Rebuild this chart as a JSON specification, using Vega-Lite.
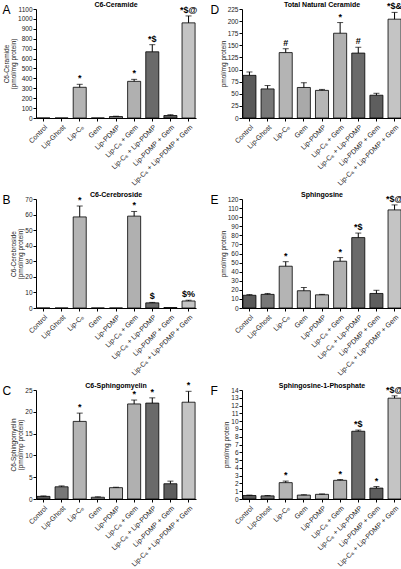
{
  "$schema": "https://vega.github.io/schema/vega-lite/v6.json",
  "padding": {"left": 2, "top": 1, "right": 8, "bottom": 0},
  "columns": 2,
  "spacing": {"row": 4, "column": 12},
  "datasets": {
    "t": [
      {"p": "A", "g": "Control", "v": 0, "e": null, "s": ""},
      {"p": "A", "g": "Lip-Ghost", "v": 0, "e": null, "s": ""},
      {"p": "A", "g": "Lip-C₆", "v": 310, "e": 340, "s": "*"},
      {"p": "A", "g": "Gem", "v": 0, "e": null, "s": ""},
      {"p": "A", "g": "Lip-PDMP", "v": 15, "e": 18, "s": ""},
      {"p": "A", "g": "Lip-C₆ + Gem", "v": 370, "e": 390, "s": "*"},
      {"p": "A", "g": "Lip-C₆ + Lip-PDMP", "v": 668, "e": 740, "s": "*$"},
      {"p": "A", "g": "Lip-PDMP + Gem", "v": 25, "e": 33, "s": ""},
      {"p": "A", "g": "Lip-C₆ + Lip-PDMP + Gem", "v": 960, "e": 1030, "s": "*$@"},
      {"p": "D", "g": "Control", "v": 88, "e": 95, "s": ""},
      {"p": "D", "g": "Lip-Ghost", "v": 60, "e": 67, "s": ""},
      {"p": "D", "g": "Lip-C₆", "v": 135, "e": 143, "s": "#"},
      {"p": "D", "g": "Gem", "v": 63, "e": 73, "s": ""},
      {"p": "D", "g": "Lip-PDMP", "v": 57, "e": 59, "s": ""},
      {"p": "D", "g": "Lip-C₆ + Gem", "v": 175, "e": 197, "s": "*"},
      {"p": "D", "g": "Lip-C₆ + Lip-PDMP", "v": 134, "e": 146, "s": "#"},
      {"p": "D", "g": "Lip-PDMP + Gem", "v": 47, "e": 51, "s": ""},
      {"p": "D", "g": "Lip-C₆ + Lip-PDMP + Gem", "v": 204, "e": 218, "s": "*$&"},
      {"p": "B", "g": "Control", "v": 0, "e": null, "s": ""},
      {"p": "B", "g": "Lip-Ghost", "v": 0, "e": null, "s": ""},
      {"p": "B", "g": "Lip-C₆", "v": 58.5, "e": 65.5, "s": "*"},
      {"p": "B", "g": "Gem", "v": 0, "e": null, "s": ""},
      {"p": "B", "g": "Lip-PDMP", "v": 0, "e": null, "s": ""},
      {"p": "B", "g": "Lip-C₆ + Gem", "v": 59, "e": 62, "s": "*"},
      {"p": "B", "g": "Lip-C₆ + Lip-PDMP", "v": 3.3, "e": 3.6, "s": "$"},
      {"p": "B", "g": "Lip-PDMP + Gem", "v": 0.3, "e": null, "s": ""},
      {"p": "B", "g": "Lip-C₆ + Lip-PDMP + Gem", "v": 4.5, "e": 5, "s": "$%"},
      {"p": "E", "g": "Control", "v": 14, "e": 14.8, "s": ""},
      {"p": "E", "g": "Lip-Ghost", "v": 15, "e": 16, "s": ""},
      {"p": "E", "g": "Lip-C₆", "v": 46, "e": 51, "s": "*"},
      {"p": "E", "g": "Gem", "v": 19, "e": 22.5, "s": ""},
      {"p": "E", "g": "Lip-PDMP", "v": 14.5, "e": 15, "s": ""},
      {"p": "E", "g": "Lip-C₆ + Gem", "v": 51.5, "e": 55.5, "s": "*"},
      {"p": "E", "g": "Lip-C₆ + Lip-PDMP", "v": 77.5, "e": 82.5, "s": "*$"},
      {"p": "E", "g": "Lip-PDMP + Gem", "v": 16, "e": 19.5, "s": ""},
      {"p": "E", "g": "Lip-C₆ + Lip-PDMP + Gem", "v": 108, "e": 113.5, "s": "*$@"},
      {"p": "C", "g": "Control", "v": 0.6, "e": 0.7, "s": ""},
      {"p": "C", "g": "Lip-Ghost", "v": 2.8, "e": 3.0, "s": ""},
      {"p": "C", "g": "Lip-C₆", "v": 17.8, "e": 19.7, "s": "*"},
      {"p": "C", "g": "Gem", "v": 0.4, "e": 0.5, "s": ""},
      {"p": "C", "g": "Lip-PDMP", "v": 2.6, "e": 2.7, "s": ""},
      {"p": "C", "g": "Lip-C₆ + Gem", "v": 21.8, "e": 22.7, "s": "*"},
      {"p": "C", "g": "Lip-C₆ + Lip-PDMP", "v": 22, "e": 23.2, "s": "*"},
      {"p": "C", "g": "Lip-PDMP + Gem", "v": 3.5, "e": 4.1, "s": ""},
      {"p": "C", "g": "Lip-C₆ + Lip-PDMP + Gem", "v": 22.2, "e": 24.7, "s": "*"},
      {"p": "F", "g": "Control", "v": 0.45, "e": 0.5, "s": ""},
      {"p": "F", "g": "Lip-Ghost", "v": 0.4, "e": 0.45, "s": ""},
      {"p": "F", "g": "Lip-C₆", "v": 2.1, "e": 2.3, "s": "*"},
      {"p": "F", "g": "Gem", "v": 0.5, "e": 0.55, "s": ""},
      {"p": "F", "g": "Lip-PDMP", "v": 0.6, "e": 0.65, "s": ""},
      {"p": "F", "g": "Lip-C₆ + Gem", "v": 2.4, "e": 2.5, "s": "*"},
      {"p": "F", "g": "Lip-C₆ + Lip-PDMP", "v": 8.7, "e": 8.85, "s": "*$"},
      {"p": "F", "g": "Lip-PDMP + Gem", "v": 1.4, "e": 1.6, "s": "*"},
      {"p": "F", "g": "Lip-C₆ + Lip-PDMP + Gem", "v": 12.95, "e": 13.25, "s": "*$@"}
    ]
  },
  "concat": [
    {
      "width": 160, "height": 109,
      "data": {"name": "t"},
      "transform": [{"filter": "datum.p === 'A'"}],
      "encoding": {"x": {"field": "g", "type": "nominal", "sort": null, "title": null, "scale": {"paddingInner": 0.28, "paddingOuter": 0.05}}},
      "layer": [
        {"mark": "bar", "encoding": {"y": {"field": "v", "type": "quantitative", "scale": {"domain": [0, 1100], "nice": false}, "axis": {"values": [0,100,200,300,400,500,600,700,800,900,1000,1100], "format": "d", "labelOverlap": false, "title": ["C6-Ceramide", "(pmol/mg protein)"]}},
          "color": {"field": "g", "type": "nominal", "sort": null, "legend": null, "scale": {"domain": ["Control","Lip-Ghost","Lip-C₆","Gem","Lip-PDMP","Lip-C₆ + Gem","Lip-C₆ + Lip-PDMP","Lip-PDMP + Gem","Lip-C₆ + Lip-PDMP + Gem"], "range": ["#5a5a5a","#777777","#b4b4b4","#a9a9a9","#b6b6b6","#b0b0b0","#6a6a6a","#5e5e5e","#c4c4c4"]}}}},
        {"transform": [{"filter": "datum.e != null"}], "mark": "rule", "encoding": {"y": {"field": "v", "type": "quantitative", "axis": {"values": [0,100,200,300,400,500,600,700,800,900,1000,1100], "format": "d", "labelOverlap": false, "title": ["C6-Ceramide", "(pmol/mg protein)"]}}, "y2": {"field": "e"}}},
        {"transform": [{"filter": "datum.e != null"}], "mark": {"type": "tick", "size": 6, "thickness": 1}, "encoding": {"y": {"field": "e", "type": "quantitative", "axis": {"values": [0,100,200,300,400,500,600,700,800,900,1000,1100], "format": "d", "labelOverlap": false, "title": ["C6-Ceramide", "(pmol/mg protein)"]}}}},
        {"transform": [{"filter": "datum.s != ''"}], "mark": {"type": "text", "baseline": "bottom", "dy": -1, "fontSize": 9, "fontWeight": "bold"}, "encoding": {"y": {"field": "e", "type": "quantitative", "axis": {"values": [0,100,200,300,400,500,600,700,800,900,1000,1100], "format": "d", "labelOverlap": false, "title": ["C6-Ceramide", "(pmol/mg protein)"]}}, "text": {"field": "s"}}},
        {"data": {"values": [{"n": "C6-Ceramide", "k": "A"}]}, "mark": {"type": "text", "baseline": "bottom", "dy": -1, "fontSize": 7, "fontWeight": "bold"}, "encoding": {"x": {"datum": "Lip-PDMP"}, "y": {"datum": 1100, "type": "quantitative", "axis": {"values": [0,100,200,300,400,500,600,700,800,900,1000,1100], "format": "d", "labelOverlap": false, "title": ["C6-Ceramide", "(pmol/mg protein)"]}}, "text": {"field": "n"}}},
        {"data": {"values": [{"k": "A"}]}, "mark": {"type": "text", "baseline": "top", "align": "left", "dx": -41, "dy": -4, "fontSize": 12}, "encoding": {"x": {"datum": "Control"}, "y": {"datum": 1100, "type": "quantitative", "axis": {"values": [0,100,200,300,400,500,600,700,800,900,1000,1100], "format": "d", "labelOverlap": false, "title": ["C6-Ceramide", "(pmol/mg protein)"]}}, "text": {"field": "k"}}}
      ]
    },
    {
      "width": 160, "height": 109,
      "data": {"name": "t"},
      "transform": [{"filter": "datum.p === 'D'"}],
      "encoding": {"x": {"field": "g", "type": "nominal", "sort": null, "title": null, "scale": {"paddingInner": 0.28, "paddingOuter": 0.05}}},
      "layer": [
        {"mark": "bar", "encoding": {"y": {"field": "v", "type": "quantitative", "scale": {"domain": [0, 225], "nice": false}, "axis": {"values": [0,25,50,75,100,125,150,175,200,225], "labelOverlap": false, "title": "pmol/mg protein"}},
          "color": {"field": "g", "type": "nominal", "sort": null, "legend": null, "scale": {"domain": ["Control","Lip-Ghost","Lip-C₆","Gem","Lip-PDMP","Lip-C₆ + Gem","Lip-C₆ + Lip-PDMP","Lip-PDMP + Gem","Lip-C₆ + Lip-PDMP + Gem"], "range": ["#5a5a5a","#777777","#b4b4b4","#a9a9a9","#b6b6b6","#b0b0b0","#6a6a6a","#5e5e5e","#c4c4c4"]}}}},
        {"transform": [{"filter": "datum.e != null"}], "mark": "rule", "encoding": {"y": {"field": "v", "type": "quantitative", "axis": {"values": [0,25,50,75,100,125,150,175,200,225], "labelOverlap": false, "title": "pmol/mg protein"}}, "y2": {"field": "e"}}},
        {"transform": [{"filter": "datum.e != null"}], "mark": {"type": "tick", "size": 6, "thickness": 1}, "encoding": {"y": {"field": "e", "type": "quantitative", "axis": {"values": [0,25,50,75,100,125,150,175,200,225], "labelOverlap": false, "title": "pmol/mg protein"}}}},
        {"transform": [{"filter": "datum.s != ''"}], "mark": {"type": "text", "baseline": "bottom", "dy": -1, "fontSize": 9, "fontWeight": "bold"}, "encoding": {"y": {"field": "e", "type": "quantitative", "axis": {"values": [0,25,50,75,100,125,150,175,200,225], "labelOverlap": false, "title": "pmol/mg protein"}}, "text": {"field": "s"}}},
        {"data": {"values": [{"n": "Total Natural Ceramide"}]}, "mark": {"type": "text", "baseline": "bottom", "dy": -1, "fontSize": 7, "fontWeight": "bold"}, "encoding": {"x": {"datum": "Lip-PDMP"}, "y": {"datum": 225, "type": "quantitative", "axis": {"values": [0,25,50,75,100,125,150,175,200,225], "labelOverlap": false, "title": "pmol/mg protein"}}, "text": {"field": "n"}}},
        {"data": {"values": [{"k": "D"}]}, "mark": {"type": "text", "baseline": "top", "align": "left", "dx": -39, "dy": -4, "fontSize": 12}, "encoding": {"x": {"datum": "Control"}, "y": {"datum": 225, "type": "quantitative", "axis": {"values": [0,25,50,75,100,125,150,175,200,225], "labelOverlap": false, "title": "pmol/mg protein"}}, "text": {"field": "k"}}}
      ]
    },
    {
      "width": 160, "height": 109,
      "data": {"name": "t"},
      "transform": [{"filter": "datum.p === 'B'"}],
      "encoding": {"x": {"field": "g", "type": "nominal", "sort": null, "title": null, "scale": {"paddingInner": 0.28, "paddingOuter": 0.05}}},
      "layer": [
        {"mark": "bar", "encoding": {"y": {"field": "v", "type": "quantitative", "scale": {"domain": [0, 70], "nice": false}, "axis": {"values": [0,10,20,30,40,50,60,70], "labelOverlap": false, "title": ["C6-Cerebroside", "(pmol/mg protein)"]}},
          "color": {"field": "g", "type": "nominal", "sort": null, "legend": null, "scale": {"domain": ["Control","Lip-Ghost","Lip-C₆","Gem","Lip-PDMP","Lip-C₆ + Gem","Lip-C₆ + Lip-PDMP","Lip-PDMP + Gem","Lip-C₆ + Lip-PDMP + Gem"], "range": ["#5a5a5a","#777777","#b4b4b4","#a9a9a9","#b6b6b6","#b0b0b0","#6a6a6a","#5e5e5e","#c4c4c4"]}}}},
        {"transform": [{"filter": "datum.e != null"}], "mark": "rule", "encoding": {"y": {"field": "v", "type": "quantitative", "axis": {"values": [0,10,20,30,40,50,60,70], "labelOverlap": false, "title": ["C6-Cerebroside", "(pmol/mg protein)"]}}, "y2": {"field": "e"}}},
        {"transform": [{"filter": "datum.e != null"}], "mark": {"type": "tick", "size": 6, "thickness": 1}, "encoding": {"y": {"field": "e", "type": "quantitative", "axis": {"values": [0,10,20,30,40,50,60,70], "labelOverlap": false, "title": ["C6-Cerebroside", "(pmol/mg protein)"]}}}},
        {"transform": [{"filter": "datum.s != ''"}], "mark": {"type": "text", "baseline": "bottom", "dy": -1, "fontSize": 9, "fontWeight": "bold"}, "encoding": {"y": {"field": "e", "type": "quantitative", "axis": {"values": [0,10,20,30,40,50,60,70], "labelOverlap": false, "title": ["C6-Cerebroside", "(pmol/mg protein)"]}}, "text": {"field": "s"}}},
        {"data": {"values": [{"n": "C6-Cerebroside"}]}, "mark": {"type": "text", "baseline": "bottom", "dy": -1, "fontSize": 7, "fontWeight": "bold"}, "encoding": {"x": {"datum": "Lip-PDMP"}, "y": {"datum": 70, "type": "quantitative", "axis": {"values": [0,10,20,30,40,50,60,70], "labelOverlap": false, "title": ["C6-Cerebroside", "(pmol/mg protein)"]}}, "text": {"field": "n"}}},
        {"data": {"values": [{"k": "B"}]}, "mark": {"type": "text", "baseline": "top", "align": "left", "dx": -41, "dy": -4, "fontSize": 12}, "encoding": {"x": {"datum": "Control"}, "y": {"datum": 70, "type": "quantitative", "axis": {"values": [0,10,20,30,40,50,60,70], "labelOverlap": false, "title": ["C6-Cerebroside", "(pmol/mg protein)"]}}, "text": {"field": "k"}}}
      ]
    },
    {
      "width": 160, "height": 109,
      "data": {"name": "t"},
      "transform": [{"filter": "datum.p === 'E'"}],
      "encoding": {"x": {"field": "g", "type": "nominal", "sort": null, "title": null, "scale": {"paddingInner": 0.28, "paddingOuter": 0.05}}},
      "layer": [
        {"mark": "bar", "encoding": {"y": {"field": "v", "type": "quantitative", "scale": {"domain": [0, 120], "nice": false}, "axis": {"values": [0,10,20,30,40,50,60,70,80,90,100,110,120], "labelOverlap": false, "title": "pmol/mg protein"}},
          "color": {"field": "g", "type": "nominal", "sort": null, "legend": null, "scale": {"domain": ["Control","Lip-Ghost","Lip-C₆","Gem","Lip-PDMP","Lip-C₆ + Gem","Lip-C₆ + Lip-PDMP","Lip-PDMP + Gem","Lip-C₆ + Lip-PDMP + Gem"], "range": ["#5a5a5a","#777777","#b4b4b4","#a9a9a9","#b6b6b6","#b0b0b0","#6a6a6a","#5e5e5e","#c4c4c4"]}}}},
        {"transform": [{"filter": "datum.e != null"}], "mark": "rule", "encoding": {"y": {"field": "v", "type": "quantitative", "axis": {"values": [0,10,20,30,40,50,60,70,80,90,100,110,120], "labelOverlap": false, "title": "pmol/mg protein"}}, "y2": {"field": "e"}}},
        {"transform": [{"filter": "datum.e != null"}], "mark": {"type": "tick", "size": 6, "thickness": 1}, "encoding": {"y": {"field": "e", "type": "quantitative", "axis": {"values": [0,10,20,30,40,50,60,70,80,90,100,110,120], "labelOverlap": false, "title": "pmol/mg protein"}}}},
        {"transform": [{"filter": "datum.s != ''"}], "mark": {"type": "text", "baseline": "bottom", "dy": -1, "fontSize": 9, "fontWeight": "bold"}, "encoding": {"y": {"field": "e", "type": "quantitative", "axis": {"values": [0,10,20,30,40,50,60,70,80,90,100,110,120], "labelOverlap": false, "title": "pmol/mg protein"}}, "text": {"field": "s"}}},
        {"data": {"values": [{"n": "Sphingosine"}]}, "mark": {"type": "text", "baseline": "bottom", "dy": -1, "fontSize": 7, "fontWeight": "bold"}, "encoding": {"x": {"datum": "Lip-PDMP"}, "y": {"datum": 120, "type": "quantitative", "axis": {"values": [0,10,20,30,40,50,60,70,80,90,100,110,120], "labelOverlap": false, "title": "pmol/mg protein"}}, "text": {"field": "n"}}},
        {"data": {"values": [{"k": "E"}]}, "mark": {"type": "text", "baseline": "top", "align": "left", "dx": -39, "dy": -4, "fontSize": 12}, "encoding": {"x": {"datum": "Control"}, "y": {"datum": 120, "type": "quantitative", "axis": {"values": [0,10,20,30,40,50,60,70,80,90,100,110,120], "labelOverlap": false, "title": "pmol/mg protein"}}, "text": {"field": "k"}}}
      ]
    },
    {
      "width": 160, "height": 109,
      "data": {"name": "t"},
      "transform": [{"filter": "datum.p === 'C'"}],
      "encoding": {"x": {"field": "g", "type": "nominal", "sort": null, "title": null, "scale": {"paddingInner": 0.28, "paddingOuter": 0.05}}},
      "layer": [
        {"mark": "bar", "encoding": {"y": {"field": "v", "type": "quantitative", "scale": {"domain": [0, 25], "nice": false}, "axis": {"values": [0,5,10,15,20,25], "labelOverlap": false, "title": ["C6-Sphingomyelin", "(pmol/mp protein)"]}},
          "color": {"field": "g", "type": "nominal", "sort": null, "legend": null, "scale": {"domain": ["Control","Lip-Ghost","Lip-C₆","Gem","Lip-PDMP","Lip-C₆ + Gem","Lip-C₆ + Lip-PDMP","Lip-PDMP + Gem","Lip-C₆ + Lip-PDMP + Gem"], "range": ["#5a5a5a","#777777","#b4b4b4","#a9a9a9","#b6b6b6","#b0b0b0","#6a6a6a","#5e5e5e","#c4c4c4"]}}}},
        {"transform": [{"filter": "datum.e != null"}], "mark": "rule", "encoding": {"y": {"field": "v", "type": "quantitative", "axis": {"values": [0,5,10,15,20,25], "labelOverlap": false, "title": ["C6-Sphingomyelin", "(pmol/mp protein)"]}}, "y2": {"field": "e"}}},
        {"transform": [{"filter": "datum.e != null"}], "mark": {"type": "tick", "size": 6, "thickness": 1}, "encoding": {"y": {"field": "e", "type": "quantitative", "axis": {"values": [0,5,10,15,20,25], "labelOverlap": false, "title": ["C6-Sphingomyelin", "(pmol/mp protein)"]}}}},
        {"transform": [{"filter": "datum.s != ''"}], "mark": {"type": "text", "baseline": "bottom", "dy": -1, "fontSize": 9, "fontWeight": "bold"}, "encoding": {"y": {"field": "e", "type": "quantitative", "axis": {"values": [0,5,10,15,20,25], "labelOverlap": false, "title": ["C6-Sphingomyelin", "(pmol/mp protein)"]}}, "text": {"field": "s"}}},
        {"data": {"values": [{"n": "C6-Sphingomyelin"}]}, "mark": {"type": "text", "baseline": "bottom", "dy": -1, "fontSize": 7, "fontWeight": "bold"}, "encoding": {"x": {"datum": "Lip-PDMP"}, "y": {"datum": 25, "type": "quantitative", "axis": {"values": [0,5,10,15,20,25], "labelOverlap": false, "title": ["C6-Sphingomyelin", "(pmol/mp protein)"]}}, "text": {"field": "n"}}},
        {"data": {"values": [{"k": "C"}]}, "mark": {"type": "text", "baseline": "top", "align": "left", "dx": -41, "dy": -4, "fontSize": 12}, "encoding": {"x": {"datum": "Control"}, "y": {"datum": 25, "type": "quantitative", "axis": {"values": [0,5,10,15,20,25], "labelOverlap": false, "title": ["C6-Sphingomyelin", "(pmol/mp protein)"]}}, "text": {"field": "k"}}}
      ]
    },
    {
      "width": 160, "height": 109,
      "data": {"name": "t"},
      "transform": [{"filter": "datum.p === 'F'"}],
      "encoding": {"x": {"field": "g", "type": "nominal", "sort": null, "title": null, "scale": {"paddingInner": 0.28, "paddingOuter": 0.05}}},
      "layer": [
        {"mark": "bar", "encoding": {"y": {"field": "v", "type": "quantitative", "scale": {"domain": [0, 14], "nice": false}, "axis": {"values": [0,1,2,3,4,5,6,7,8,9,10,11,12,13,14], "labelOverlap": false, "title": "pmol/mg protein"}},
          "color": {"field": "g", "type": "nominal", "sort": null, "legend": null, "scale": {"domain": ["Control","Lip-Ghost","Lip-C₆","Gem","Lip-PDMP","Lip-C₆ + Gem","Lip-C₆ + Lip-PDMP","Lip-PDMP + Gem","Lip-C₆ + Lip-PDMP + Gem"], "range": ["#5a5a5a","#777777","#b4b4b4","#a9a9a9","#b6b6b6","#b0b0b0","#6a6a6a","#5e5e5e","#c4c4c4"]}}}},
        {"transform": [{"filter": "datum.e != null"}], "mark": "rule", "encoding": {"y": {"field": "v", "type": "quantitative", "axis": {"values": [0,1,2,3,4,5,6,7,8,9,10,11,12,13,14], "labelOverlap": false, "title": "pmol/mg protein"}}, "y2": {"field": "e"}}},
        {"transform": [{"filter": "datum.e != null"}], "mark": {"type": "tick", "size": 6, "thickness": 1}, "encoding": {"y": {"field": "e", "type": "quantitative", "axis": {"values": [0,1,2,3,4,5,6,7,8,9,10,11,12,13,14], "labelOverlap": false, "title": "pmol/mg protein"}}}},
        {"transform": [{"filter": "datum.s != ''"}], "mark": {"type": "text", "baseline": "bottom", "dy": -1, "fontSize": 9, "fontWeight": "bold"}, "encoding": {"y": {"field": "e", "type": "quantitative", "axis": {"values": [0,1,2,3,4,5,6,7,8,9,10,11,12,13,14], "labelOverlap": false, "title": "pmol/mg protein"}}, "text": {"field": "s"}}},
        {"data": {"values": [{"n": "Sphingosine-1-Phosphate"}]}, "mark": {"type": "text", "baseline": "bottom", "dy": -1, "fontSize": 7, "fontWeight": "bold"}, "encoding": {"x": {"datum": "Lip-PDMP"}, "y": {"datum": 14, "type": "quantitative", "axis": {"values": [0,1,2,3,4,5,6,7,8,9,10,11,12,13,14], "labelOverlap": false, "title": "pmol/mg protein"}}, "text": {"field": "n"}}},
        {"data": {"values": [{"k": "F"}]}, "mark": {"type": "text", "baseline": "top", "align": "left", "dx": -39, "dy": -4, "fontSize": 12}, "encoding": {"x": {"datum": "Control"}, "y": {"datum": 14, "type": "quantitative", "axis": {"values": [0,1,2,3,4,5,6,7,8,9,10,11,12,13,14], "labelOverlap": false, "title": "pmol/mg protein"}}, "text": {"field": "k"}}}
      ]
    }
  ],
  "config": {
    "font": "Liberation Sans",
    "view": {"stroke": null},
    "bar": {"stroke": "#000000", "strokeWidth": 0.8},
    "rule": {"color": "#000000", "strokeWidth": 1},
    "tick": {"color": "#000000"},
    "text": {"color": "#000000"},
    "axis": {"grid": false, "domainColor": "#000000", "tickColor": "#000000", "domainWidth": 1, "tickWidth": 1, "tickSize": 3, "labelFontSize": 6.5, "labelColor": "#222222", "labelPadding": 1, "titleFontSize": 6.5, "titleFontWeight": "normal", "titleColor": "#222222", "titlePadding": 1, "titleLineHeight": 7.5},
    "axisX": {"labelAngle": -45, "labelFontSize": 7, "labelPadding": 2}
  }
}
